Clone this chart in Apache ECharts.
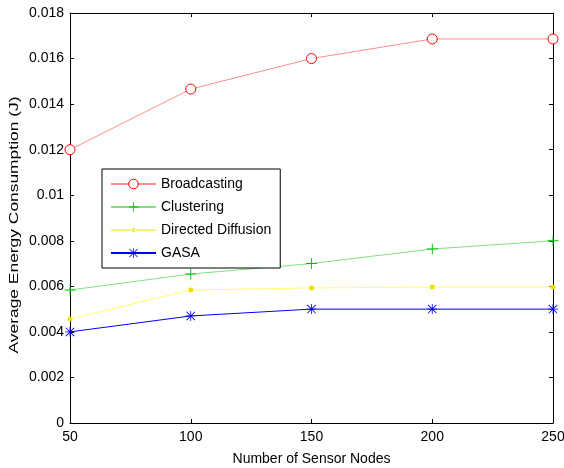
<!DOCTYPE html>
<html>
<head>
<meta charset="utf-8">
<script src="https://cdn.jsdelivr.net/npm/echarts@6/dist/echarts.min.js"></script>
<style>
  html, body { margin: 0; padding: 0; background: #fff; }
  #main { width: 564px; height: 468px; }
</style>
</head>
<body>
<div id="main"></div>
<script>
// values
const nodes = [50, 100, 150, 200, 250];
const broadcasting = [0.0120, 0.01466, 0.0160, 0.01686, 0.01686];
const clustering = [0.00584, 0.00654, 0.00700, 0.00764, 0.00800];
const directedDiffusion = [0.00457, 0.00584, 0.00593, 0.00597, 0.00597];
const gasa = [0.00400, 0.00470, 0.00500, 0.00500, 0.00500];

const plusPath = 'path://M4.6,0H5.4V4.6H10V5.4H5.4V10H4.6V5.4H0V4.6H4.6Z';
const starPath = 'path://M4.6,0H5.4V10H4.6Z M0,4.6H10V5.4H0Z M1.1,0.5L9.5,8.9L8.9,9.5L0.5,1.1Z M8.9,0.5L9.5,1.1L1.1,9.5L0.5,8.9Z';
// legend icon for the small dot: thin line + small dot
const dotLegendIcon = 'path://M0,5.6H45V6.4H0Z M20.5,6a2,2 0 1,0 4,0a2,2 0 1,0 -4,0Z';

function pairs(ys) {
  return nodes.map((x, i) => [x, ys[i]]);
}

const font = 'Liberation Sans, Arial, sans-serif';
const fs = 14;

let myChart = echarts.init(document.getElementById('main'));
let option = {
  animation: false,
  textStyle: { fontFamily: font },
  grid: { left: 70, right: 11, top: 13, bottom: 45, outerBoundsMode: 'none' },
  // y title is drawn stretched along its length, as in the figure
  graphic: [{
    type: 'text',
    x: 15, y: 225,
    rotation: Math.PI / 2,
    scaleX: 1.45,
    style: {
      text: 'Average Energy Consumption (J)',
      fill: '#000',
      font: '12px ' + font,
      align: 'center',
      verticalAlign: 'middle',
      textAlign: 'center',
      textVerticalAlign: 'middle'
    }
  }],
  legend: {
    orient: 'vertical',
    left: 102,
    top: 169,
    itemWidth: 45,
    itemHeight: 12,
    itemGap: 9,
    padding: [8, 9, 8, 8],
    backgroundColor: '#fff',
    borderColor: '#000',
    borderWidth: 1,
    borderRadius: 0,
    textStyle: { fontFamily: font, fontSize: fs, color: '#000' },
    data: [
      { name: 'Broadcasting', itemStyle: { borderWidth: 1 } },
      'Clustering',
      { name: 'Directed Diffusion', icon: dotLegendIcon },
      'GASA'
    ]
  },
  xAxis: [{
    type: 'value',
    min: 50, max: 250, interval: 50,
    name: 'Number of Sensor Nodes',
    nameLocation: 'middle',
    nameGap: 29,
    nameTextStyle: { fontFamily: font, fontSize: fs, color: '#000' },
    axisLine: { onZero: false, lineStyle: { color: '#000' } },
    axisTick: { inside: true, length: 4, lineStyle: { color: '#000' } },
    axisLabel: { fontFamily: font, fontSize: fs, color: '#000', margin: 7 },
    splitLine: { show: false }
  }, {
    type: 'value', position: 'top',
    min: 50, max: 250, interval: 50,
    axisLine: { show: true, onZero: false, lineStyle: { color: '#000' } },
    axisTick: { inside: true, length: 4, lineStyle: { color: '#000' } },
    axisLabel: { show: false },
    splitLine: { show: false }
  }],
  yAxis: [{
    type: 'value',
    min: 0, max: 0.018, interval: 0.002,
    axisLine: { show: true, onZero: false, lineStyle: { color: '#000' } },
    axisTick: { inside: true, length: 4, lineStyle: { color: '#000' } },
    axisLabel: {
      fontFamily: font, fontSize: fs, color: '#000', margin: 6,
      formatter: v => String(+v.toFixed(3))
    },
    splitLine: { show: false }
  }, {
    type: 'value', position: 'right',
    min: 0, max: 0.018, interval: 0.002,
    axisLine: { show: true, onZero: false, lineStyle: { color: '#000' } },
    axisTick: { inside: true, length: 4, lineStyle: { color: '#000' } },
    axisLabel: { show: false },
    splitLine: { show: false }
  }],
  series: [
    {
      name: 'Broadcasting', type: 'line', data: pairs(broadcasting),
      symbol: 'circle', symbolSize: 10,
      emphasis: { disabled: true },
      lineStyle: { color: '#ff8c8c', width: 1 },
      itemStyle: { color: '#fff', borderColor: '#ff0000', borderWidth: 1 }
    },
    {
      name: 'Clustering', type: 'line', data: pairs(clustering),
      symbol: plusPath, symbolSize: 11,
      emphasis: { disabled: true },
      lineStyle: { color: '#80e080', width: 1 },
      itemStyle: { color: '#00c000' }
    },
    {
      name: 'Directed Diffusion', type: 'line', data: pairs(directedDiffusion),
      symbol: 'circle', symbolSize: 5,
      emphasis: { disabled: true },
      lineStyle: { color: '#ffff70', width: 1 },
      itemStyle: { color: '#f0e000' }
    },
    {
      name: 'GASA', type: 'line', data: pairs(gasa),
      symbol: starPath, symbolSize: 10,
      emphasis: { disabled: true },
      lineStyle: { color: '#0000ff', width: 1 },
      itemStyle: { color: '#0000ff' }
    }
  ]
};
myChart.setOption(option);
window.onresize = myChart.resize;
</script>
</body>
</html>
